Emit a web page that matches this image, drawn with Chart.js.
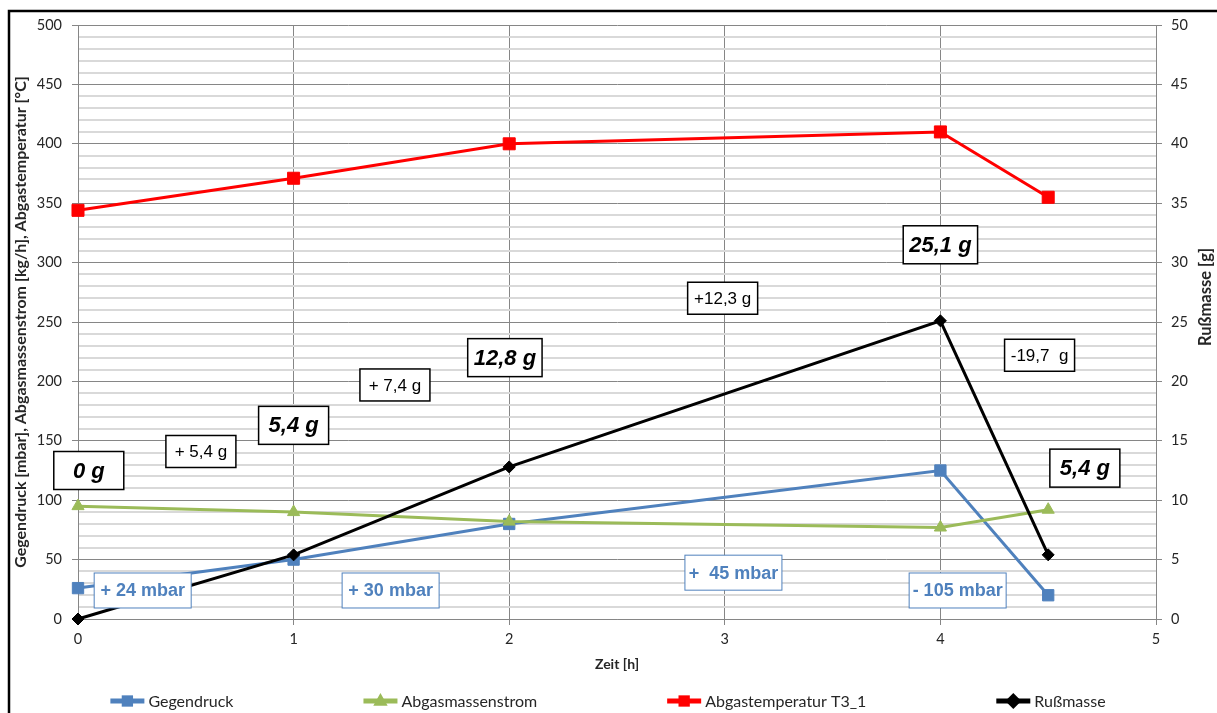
<!DOCTYPE html>
<html lang="de">
<head>
<meta charset="utf-8">
<title>Gegendruck, Abgasmassenstrom, Abgastemperatur, Rußmasse</title>
<script src="https://cdn.jsdelivr.net/npm/chart.js@4.4.1/dist/chart.umd.min.js"></script>
<style>
    html, body { margin: 0; padding: 0; background: #ffffff; }
    canvas { display: block; }
</style>
</head>
<body>
<canvas id="chart" width="1217" height="713"></canvas>
<script>
/* ===================================
   REGENERATION - RUSSMASSE / GEGENDRUCK
   =================================== */

// Zeit [h]
const HOURS = [0, 1, 2, 4, 4.5];

// linke Achse
const GEGENDRUCK = [26, 50, 80, 125, 20];
const ABGASMASSENSTROM = [95, 90, 82, 77, 92];
const ABGASTEMPERATUR = [344, 371, 400, 410, 355];

// rechte Achse [g]
const RUSSMASSE = [0, 5.4, 12.8, 25.1, 5.4];

const SERIES_NAMES = ['Gegendruck', 'Abgasmassenstrom', 'Abgastemperatur T3_1', 'Rußmasse'];

// Beschriftungen
const MASS_LABELS = ['0 g', '5,4 g', '12,8 g', '25,1 g', '5,4 g'];
const MASS_DELTA_LABELS = ['+ 5,4 g', '+ 7,4 g', '+12,3 g', '-19,7  g'];
const PRESSURE_DELTA_LABELS = ['+ 24 mbar', '+ 30 mbar', '+  45 mbar', '- 105 mbar'];

// Platzierung der Textfelder (Zeit [h], linke Achse)
const MASS_LABEL_AT = [[0.05, 125], [1.0, 163], [1.98, 220], [4.0, 315], [4.67, 127]];
const MASS_DELTA_AT = [[0.57, 141], [1.47, 197], [2.99, 270], [4.46, 222]];
const PRESSURE_DELTA_AT = [[0.30, 24], [1.45, 24], [3.04, 39], [4.08, 24]];

const AXIS_GREY = '#868686';
const MINOR_GREY = '#d9d9d9';
const TEXT_COLOR = '#262626';
const UI_FONT = 'Lato, "Open Sans", sans-serif';
const BOX_FONT = '"Liberation Sans", Arial, sans-serif';

function toPoints(values) {
    return HOURS.map((h, i) => ({ x: h, y: values[i] }));
}

function createDataset(label, values, color, pointStyle, pointRadius, yAxisID, order) {
    return {
        label,
        data: toPoints(values),
        yAxisID,
        order,
        borderColor: color,
        backgroundColor: color,
        borderWidth: 3,
        pointStyle,
        pointRadius,
        pointBorderWidth: 1,
        pointBorderColor: color,
        pointBackgroundColor: color,
        tension: 0,
        clip: false
    };
}

function drawMarker(ctx, style, x, y, r, color) {
    ctx.save();
    ctx.fillStyle = color;
    ctx.beginPath();
    if (style === 'rect') {
        const s = r * Math.SQRT1_2;
        ctx.rect(x - s, y - s, 2 * s, 2 * s);
    } else if (style === 'triangle') {
        ctx.moveTo(x, y - r);
        ctx.lineTo(x + r * 0.9, y + r * 0.6);
        ctx.lineTo(x - r * 0.9, y + r * 0.6);
        ctx.closePath();
    } else {
        ctx.moveTo(x, y - r);
        ctx.lineTo(x + r, y);
        ctx.lineTo(x, y + r);
        ctx.lineTo(x - r, y);
        ctx.closePath();
    }
    ctx.fill();
    ctx.restore();
}

function drawTextBox(ctx, cx, cy, w, h, text, font, color, borderColor, borderWidth) {
    ctx.save();
    ctx.fillStyle = '#ffffff';
    ctx.fillRect(cx - w / 2, cy - h / 2, w, h);
    ctx.lineWidth = borderWidth;
    ctx.strokeStyle = borderColor;
    ctx.strokeRect(cx - w / 2, cy - h / 2, w, h);
    ctx.font = font;
    ctx.fillStyle = color;
    ctx.textAlign = 'center';
    ctx.textBaseline = 'middle';
    ctx.fillText(text, cx, cy + 1);
    ctx.restore();
}

const framePlugin = {
    id: 'frame',
    beforeDraw(chart) {
        const ctx = chart.ctx;
        ctx.save();
        ctx.fillStyle = '#ffffff';
        ctx.fillRect(0, 0, chart.width, chart.height);
        ctx.strokeStyle = '#000000';
        ctx.lineWidth = 2.5;
        ctx.beginPath();
        ctx.moveTo(9, chart.height + 5);
        ctx.lineTo(9, 11);
        ctx.lineTo(chart.width + 5, 11);
        ctx.stroke();
        ctx.restore();
    }
};

const annotationPlugin = {
    id: 'boxes',
    afterDatasetsDraw(chart) {
        const ctx = chart.ctx;
        const xs = chart.scales.x;
        const ys = chart.scales.y;
        const px = p => [xs.getPixelForValue(p[0]), ys.getPixelForValue(p[1])];

        MASS_DELTA_LABELS.forEach((text, i) => {
            const [cx, cy] = px(MASS_DELTA_AT[i]);
            drawTextBox(ctx, cx, cy, 70, 32, text, '17px ' + BOX_FONT, '#000000', '#000000', 1.5);
        });
        MASS_LABELS.forEach((text, i) => {
            const [cx, cy] = px(MASS_LABEL_AT[i]);
            ctx.font = 'italic bold 22px ' + BOX_FONT;
            const w = Math.max(70, ctx.measureText(text).width + 12);
            drawTextBox(ctx, cx, cy, w, 38, text, 'italic bold 22px ' + BOX_FONT, '#000000', '#000000', 1.5);
        });
        PRESSURE_DELTA_LABELS.forEach((text, i) => {
            const [cx, cy] = px(PRESSURE_DELTA_AT[i]);
            drawTextBox(ctx, cx, cy, 97, 35, text, 'bold 18px ' + BOX_FONT, '#4F81BD', '#4F81BD', 1);
        });
    },
    afterDraw(chart) {
        const ctx = chart.ctx;

        // rechte Achsenbeschriftung (von unten nach oben)
        ctx.save();
        ctx.translate(1206, 297);
        ctx.rotate(-Math.PI / 2);
        ctx.font = 'bold 16.5px ' + UI_FONT;
        ctx.fillStyle = TEXT_COLOR;
        ctx.textAlign = 'center';
        ctx.textBaseline = 'middle';
        ctx.fillText('Rußmasse [g]', 0, 0);
        ctx.restore();

        // Legende
        const y = 701;
        const symbolW = 34;
        const gap = 130;
        ctx.save();
        ctx.font = '16px ' + UI_FONT;
        const items = chart.data.datasets.map(ds => ({
            ds,
            w: symbolW + 4 + ctx.measureText(ds.label).width
        }));
        const total = items.reduce((acc, it) => acc + it.w, 0) + gap * (items.length - 1);
        let x = 608 - total / 2;
        items.forEach(({ ds, w }) => {
            ctx.strokeStyle = ds.borderColor;
            ctx.lineWidth = 5;
            ctx.beginPath();
            ctx.moveTo(x, y);
            ctx.lineTo(x + symbolW, y);
            ctx.stroke();
            drawMarker(ctx, ds.pointStyle, x + symbolW / 2, y, 8, ds.borderColor);
            ctx.fillStyle = TEXT_COLOR;
            ctx.textAlign = 'left';
            ctx.textBaseline = 'middle';
            ctx.fillText(ds.label, x + symbolW + 4, y + 1);
            x += w + gap;
        });
        ctx.restore();
    }
};

const tickFont = { family: UI_FONT, size: 14.5 };

new Chart(document.getElementById('chart').getContext('2d'), {
    type: 'line',
    data: {
        datasets: [
            createDataset(SERIES_NAMES[0], GEGENDRUCK, '#4F81BD', 'rect', 8, 'y', 4),
            createDataset(SERIES_NAMES[1], ABGASMASSENSTROM, '#9BBB59', 'triangle', 7, 'y', 3),
            createDataset(SERIES_NAMES[2], ABGASTEMPERATUR, '#FF0000', 'rect', 8.5, 'y', 2),
            createDataset(SERIES_NAMES[3], RUSSMASSE, '#000000', 'rectRot', 6, 'y1', 1)
        ]
    },
    options: {
        responsive: false,
        animation: false,
        events: [],
        layout: {
            padding: { left: 10, right: 0, top: 25, bottom: 38 }
        },
        plugins: {
            legend: { display: false },
            tooltip: { enabled: false }
        },
        scales: {
            x: {
                type: 'linear',
                min: 0,
                max: 5,
                ticks: { stepSize: 1, color: TEXT_COLOR, font: tickFont, padding: 6 },
                grid: { color: AXIS_GREY, lineWidth: 1, tickLength: 6, tickColor: AXIS_GREY },
                border: { color: AXIS_GREY },
                title: {
                    display: true,
                    text: 'Zeit [h]',
                    color: TEXT_COLOR,
                    font: { family: UI_FONT, size: 14, weight: 'bold' },
                    padding: { top: 0, bottom: 2 }
                },
                afterFit(scale) { scale.height = 56; }
            },
            y: {
                type: 'linear',
                position: 'left',
                min: 0,
                max: 500,
                ticks: {
                    stepSize: 10,
                    autoSkip: false,
                    color: TEXT_COLOR,
                    font: tickFont,
                    padding: 10,
                    callback: value => (value % 50 === 0 ? value : '')
                },
                grid: {
                    color: ctx => (ctx.tick && ctx.tick.value % 50 === 0 ? AXIS_GREY : MINOR_GREY),
                    lineWidth: ctx => (ctx.tick && ctx.tick.value % 50 === 0 ? 1 : 2),
                    tickLength: 6,
                    tickColor: ctx => (ctx.tick && ctx.tick.value % 50 === 0 ? AXIS_GREY : 'rgba(0,0,0,0)')
                },
                border: { color: AXIS_GREY },
                title: {
                    display: true,
                    text: 'Gegendruck [mbar], Abgasmassenstrom [kg/h], Abgastemperatur [°C]',
                    color: TEXT_COLOR,
                    font: { family: UI_FONT, size: 16, weight: 'bold' },
                    padding: { top: 1, bottom: 0 }
                },
                afterFit(scale) { scale.width = 68; }
            },
            y1: {
                type: 'linear',
                position: 'right',
                min: 0,
                max: 50,
                ticks: { stepSize: 5, color: TEXT_COLOR, font: tickFont, padding: 9 },
                grid: { drawOnChartArea: false, tickLength: 6, tickColor: AXIS_GREY },
                border: { color: AXIS_GREY },
                afterFit(scale) { scale.width = 61; }
            }
        }
    },
    plugins: [framePlugin, annotationPlugin]
});
</script>
</body>
</html>
